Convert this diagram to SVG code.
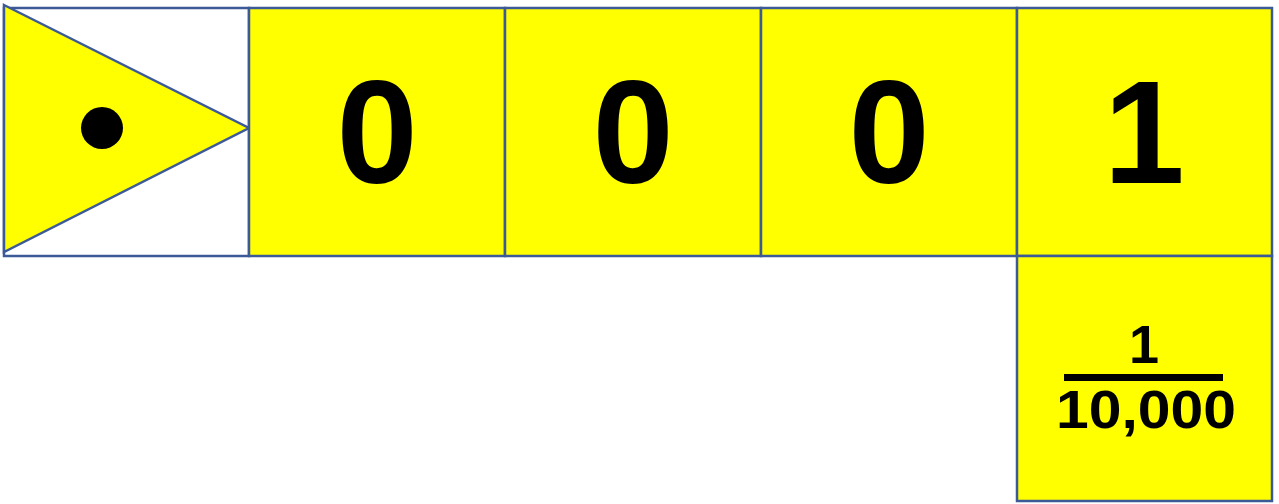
<svg xmlns="http://www.w3.org/2000/svg" width="1279" height="504" viewBox="0 0 1279 504">
<style>
.cell{fill:#ffff00;stroke:#3d5a98;stroke-width:2.5}
.big{font-family:"Liberation Sans",Arial,sans-serif;font-weight:bold;font-size:146px;fill:#000;text-anchor:middle}
.frac{font-family:"Liberation Sans",Arial,sans-serif;font-weight:bold;font-size:54px;fill:#000;text-anchor:middle}
</style>
<rect width="1279" height="504" fill="#fff"/>
<g id="point-cell">
<rect x="4" y="8" width="245" height="248" fill="#fff" stroke="#3d5a98" stroke-width="2.5"/>
<polygon points="4,5 249,128 4,252" fill="#ffff00" stroke="#3d5a98" stroke-width="2.5"/>
<circle cx="102" cy="128" r="21" fill="#000"/>
</g>
<g id="cell-tenths">
<rect class="cell" x="249" y="8" width="256" height="248"/>
<text class="big" x="377" y="183">0</text>
</g>
<g id="cell-hundredths">
<rect class="cell" x="505" y="8" width="256" height="248"/>
<text class="big" x="633" y="183">0</text>
</g>
<g id="cell-thousandths">
<rect class="cell" x="761" y="8" width="256" height="248"/>
<text class="big" x="889" y="183">0</text>
</g>
<g id="cell-tenthousandths">
<rect class="cell" x="1017" y="8" width="255" height="248"/>
<text class="big" x="1144" y="183">1</text>
</g>
<g id="fraction-cell">
<rect class="cell" x="1017" y="256" width="255" height="245"/>
<text class="frac" x="1144" y="363">1</text>
<rect x="1064" y="374" width="159" height="7" fill="#000"/>
<text class="frac" x="1146" y="428" textLength="180" lengthAdjust="spacingAndGlyphs">10,000</text>
</g>
</svg>
